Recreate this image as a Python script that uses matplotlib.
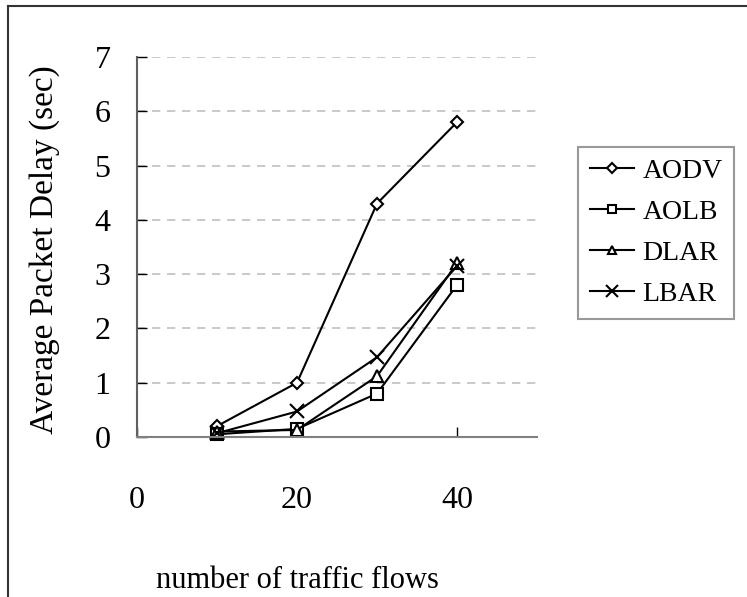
import matplotlib.pyplot as plt
from matplotlib.lines import Line2D

# data
flows = [10, 20, 30, 40]
aodv = [0.2, 1.0, 4.3, 5.8]
aolb = [0.05, 0.15, 0.8, 2.8]
dlar = [0.1, 0.13, 1.12, 3.2]
lbar = [0.07, 0.47, 1.47, 3.15]
names = ['AODV', 'AOLB', 'DLAR', 'LBAR']
xticks = [0, 20, 40]
yticks = [0, 1, 2, 3, 4, 5, 6, 7]

plt.rcParams['font.family'] = ['Liberation Serif', 'DejaVu Serif']

W, H = 747, 597
fig = plt.figure(figsize=(W / 100, H / 100), dpi=100)
ax = fig.add_axes([137 / W, 1 - 437 / H, 400 / W, 380 / H])

markers = ['D', 's', '^', 'x']
sizes = [6, 8, 8, 10]
for ys, m, ms, name in zip([aodv, aolb, dlar, lbar], markers, sizes, names):
    ax.plot(flows, ys, color='black', lw=1.5, marker=m, ms=ms,
            mfc='white', mec='black', mew=1.5, label=name, clip_on=False)

ax.set_xlim(0, 50)
ax.set_ylim(0, 7)
ax.set_xticks(xticks)
ax.set_yticks(yticks)
ax.tick_params(direction='in', length=7, width=1, labelsize=23, colors='black')
ax.tick_params(axis='x', pad=35)
ax.tick_params(axis='y', pad=19)
for s in ['top', 'right']:
    ax.spines[s].set_visible(False)
ax.spines['left'].set_color('#606060')
ax.spines['bottom'].set_color('#808080')
for s in ['left', 'bottom']:
    ax.spines[s].set_linewidth(1.5)
for y in yticks[1:]:
    ax.axhline(y, color='#c0c0c0', ls=(0, (5, 4)), lw=1.2, zorder=0)

fig.text(45 / W, 1 - 250 / H, 'Average Packet Delay (sec)', rotation=90,
         ha='center', va='center', fontsize=24)
fig.text(297 / W, 1 - 580 / H, 'number of traffic flows',
         ha='center', va='center', fontsize=22)

leg = ax.legend(loc='upper left', bbox_to_anchor=(578 / W, 1 - 147 / H),
                bbox_transform=fig.transFigure, fontsize=20, frameon=True,
                fancybox=False, edgecolor='#808080', handlelength=1.6,
                handletextpad=0.3, labelspacing=0.56, borderpad=0.42,
                borderaxespad=0, markerscale=0.8)
leg.get_frame().set_linewidth(1.5)

# outer frame (only left/top edges visible in the crop)
fig.add_artist(Line2D([8 / W, 8 / W], [0, 1 - 6 / H], color='#333333', lw=1.5,
                      transform=fig.transFigure))
fig.add_artist(Line2D([8 / W, 1], [1 - 6 / H, 1 - 6 / H], color='#333333', lw=1.5,
                      transform=fig.transFigure))

fig.savefig('out.png', dpi=100)
